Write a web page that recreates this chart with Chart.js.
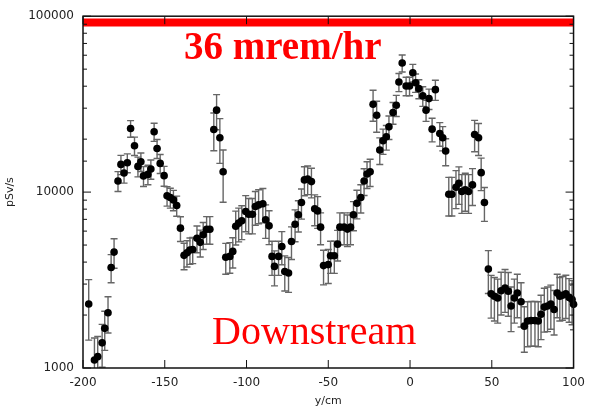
<!DOCTYPE html>
<html>
<head>
<meta charset="utf-8">
<script src="https://cdn.jsdelivr.net/npm/chart.js@4"></script>
<style>
  html, body { margin: 0; padding: 0; background: #fff; }
  #wrap { width: 593px; height: 412px; }
</style>
</head>
<body>
<div id="wrap"><canvas id="chart" width="593" height="412"></canvas></div>
<script>
// position along y (cm)
const xPos = [
  -196.5, -193, -191, -188.3, -186.7, -184.7, -182.8, -181, -178.6, -176.8,
  -174.9, -172.9, -170.9, -168.5, -166.4, -164.6, -163, -160.3, -158.5, -156.5,
  -154.7, -152.8, -150.4, -148.6, -146.6, -144.7, -142.7, -140.4, -138.2, -136.4,
  -134.6, -132.9, -130.3, -128.3, -126.5, -124.4, -122.4, -120, -118.3, -116.3,
  -114.3, -112.7, -110.2, -108.4, -106.6, -104.8, -102.9, -100.5, -98.7, -96.4,
  -94.6, -92.6, -90, -88.3, -86.2, -84.4, -82.9, -80.4, -78.4, -76.6,
  -74.3, -72.5, -70.3, -68.3, -66.4, -64.6, -62.6, -60.3, -58.3, -56.5,
  -54.7, -52.9, -50, -48.6, -46.3, -44.3, -42.9, -40.3, -38.3, -36.4,
  -34.6, -32.5, -30.1, -28.1, -26.3, -24.4, -22.6, -20.4, -18.5, -16.5,
  -14.5, -12.9, -10.4, -8.4, -6.8, -4.8, -2.4, -0.3, 1.7, 3.4,
  5.4, 7.8, 9.8, 11.6, 13.5, 15.5, 18.2, 20, 21.8, 23.7,
  25.6, 28.1, 29.9, 31.7, 33.8, 35.8, 38.2, 39.5, 41.9, 43.5,
  45.5, 47.9, 49.6, 51.6, 53.6, 55.7, 58.1, 60.1, 61.8, 63.8,
  65.6, 67.9, 69.9, 71.9, 74, 76.4, 78.4, 80.1, 82.1, 84.1,
  86.1, 88.1, 90, 91.6, 93.2, 95.3, 97.3, 99.1, 100
];

// dose rate (pSv/s)
const dose = [
  2310, 1110, 1160, 1390, 1680, 2060, 3730, 4560, 11570, 14370,
  12850, 14690, 22990, 18340, 14000, 14890, 12360, 12610, 13530, 22020,
  17710, 14560, 12400, 9520, 9310, 9030, 8390, 6240, 4370, 4520,
  4680, 4720, 5470, 5180, 5720, 6150, 6150, 22680, 29230, 20360,
  13060, 4260, 4310, 4600, 6400, 6660, 6870, 7750, 7490, 7490,
  8280, 8460, 8580, 6960, 6430, 4310, 3780, 4310, 4910, 3540,
  3470, 5240, 6570, 7430, 8720, 11730, 11880, 11470, 8040, 7820,
  6320, 3820, 3870, 4350, 4350, 5060, 6320, 6320, 6160, 6320,
  7430, 8640, 9310, 11570, 12680, 13060, 31600, 27370, 17340, 19590,
  20630, 23500, 28320, 31190, 42270, 54170, 40130, 40130, 47730, 41880,
  38730, 35220, 29230, 34000, 22800, 38230, 21530, 20360, 17120, 9720,
  9720, 10650, 11220, 10070, 10290, 10070, 10990, 21260, 20360, 12900,
  8720, 3650, 2640, 2560, 2500, 2750, 2850, 2730, 2250, 2500,
  2670, 2380, 1730, 1850, 1860, 1860, 1850, 2020, 2220, 2250,
  2310, 2150, 2670, 2560, 2590, 2640, 2520, 2450, 2300
];

// error (pSv/s)
const doseErr = [
  870, 370, 350, 380, 420, 480, 680, 870, 1500, 1800,
  1600, 1800, 2500, 2200, 1800, 1800, 1600, 1600, 1700, 2600,
  2200, 1800, 1600, 1200, 1200, 1200, 1100, 1000, 750, 770,
  800, 800, 950, 900, 1000, 1100, 1100, 5500, 6600, 5800,
  4300, 850, 850, 900, 1400, 1450, 1500, 1800, 1700, 1700,
  1800, 1850, 1900, 1500, 1400, 950, 850, 950, 1050, 800,
  780, 1100, 1350, 1500, 1700, 2200, 2200, 2200, 1600, 1600,
  1300, 850, 850, 900, 900, 1000, 1300, 1300, 1250, 1300,
  1400, 1600, 1700, 2000, 2200, 2300, 6300, 5500, 3000, 3200,
  3300, 3600, 4000, 4300, 5000, 6000, 4800, 4800, 5500, 5000,
  4800, 4500, 4000, 4500, 3500, 5000, 3300, 3200, 3000, 2400,
  2400, 2600, 2700, 2500, 2500, 2500, 2600, 4300, 4200, 2700,
  1900, 1000, 720, 710, 700, 750, 780, 760, 640, 700,
  740, 670, 500, 530, 530, 530, 530, 570, 620, 640,
  650, 610, 740, 710, 720, 730, 700, 690, 650
];

// 36 mrem/hr limit line
const limitX = [-200, 100];
const limitY = [92000, 92000];

const xTicks = [-200, -150, -100, -50, 0, 50, 100];
const yLabels = [1000, 10000, 100000];

const errorBars = {
  id: "errorBars",
  beforeDatasetsDraw(chart) {
    const { ctx, chartArea: a, scales: { x, y } } = chart;
    ctx.save();
    ctx.beginPath();
    ctx.rect(a.left, a.top, a.width, a.height);
    ctx.clip();
    ctx.strokeStyle = "#666";
    ctx.lineWidth = 1.4;
    xPos.forEach((xv, i) => {
      const px = x.getPixelForValue(xv);
      const top = y.getPixelForValue(dose[i] + doseErr[i]);
      const lo = Math.max(dose[i] - doseErr[i], 100);
      const bot = y.getPixelForValue(lo);
      ctx.beginPath();
      ctx.moveTo(px, top); ctx.lineTo(px, bot);
      ctx.moveTo(px - 3.5, top); ctx.lineTo(px + 3.5, top);
      ctx.moveTo(px - 3.5, bot); ctx.lineTo(px + 3.5, bot);
      ctx.stroke();
    });
    ctx.restore();
  }
};

const frame = {
  id: "frame",
  afterDraw(chart) {
    const { ctx, chartArea: a, scales: { x, y } } = chart;
    ctx.save();
    ctx.strokeStyle = "#111";
    ctx.lineWidth = 1.5;
    ctx.strokeRect(a.left, a.top, a.width, a.height);
    ctx.lineWidth = 1;
    ctx.beginPath();
    x.ticks.forEach(t => {
      const px = x.getPixelForValue(t.value);
      ctx.moveTo(px, a.bottom); ctx.lineTo(px, a.bottom - 8);
      ctx.moveTo(px, a.top); ctx.lineTo(px, a.top + 8);
    });
    y.ticks.forEach(t => {
      const py = y.getPixelForValue(t.value);
      const len = yLabels.includes(t.value) ? 8 : 4;
      ctx.moveTo(a.left, py); ctx.lineTo(a.left + len, py);
      ctx.moveTo(a.right, py); ctx.lineTo(a.right - len, py);
    });
    ctx.stroke();
    ctx.restore();
  }
};

const labels = {
  id: "labels",
  afterDatasetsDraw(chart) {
    const { ctx, chartArea: a } = chart;
    ctx.save();
    ctx.fillStyle = "#ff0000";
    ctx.textBaseline = "alphabetic";
    ctx.textAlign = "left";
    ctx.font = "bold 39px 'Liberation Serif'";
    ctx.fillText("36 mrem/hr", a.left + 101, a.top + 43);
    ctx.font = "40px 'Liberation Serif'";
    ctx.fillText("Downstream", a.left + 129, a.top + 328);
    ctx.restore();
  }
};

const tickFont = { family: "DejaVu Sans", size: 12 };

new Chart(document.getElementById("chart"), {
  type: "scatter",
  data: {
    datasets: [
      {
        data: xPos.map((v, i) => ({ x: v, y: dose[i] })),
        pointRadius: 3.8,
        pointBackgroundColor: "#000",
        pointBorderWidth: 0,
        clip: 6
      },
      {
        data: limitX.map((v, i) => ({ x: v, y: limitY[i] })),
        showLine: true,
        borderColor: "#ff0000",
        borderWidth: 8,
        pointRadius: 0
      }
    ]
  },
  options: {
    responsive: false,
    animation: false,
    layout: { padding: { left: 0, right: 16, top: 14, bottom: 0 } },
    plugins: { legend: { display: false }, tooltip: { enabled: false } },
    scales: {
      x: {
        type: "linear",
        min: -200,
        max: 100,
        afterBuildTicks: s => { s.ticks = xTicks.map(v => ({ value: v })); },
        grid: { display: false, drawTicks: false },
        border: { display: false },
        ticks: { font: tickFont, color: "#222", padding: 8, maxRotation: 0 },
        title: { display: true, text: "y/cm", font: { family: "DejaVu Sans", size: 11 }, color: "#222", padding: 4 },
        afterFit: s => { s.height = 44; }
      },
      y: {
        type: "logarithmic",
        min: 1000,
        max: 100000,
        grid: { display: false, drawTicks: false },
        border: { display: false },
        ticks: {
          font: tickFont,
          color: "#222",
          padding: 9,
          autoSkip: false,
          callback: v => yLabels.includes(v) ? String(v) : ""
        },
        title: { display: true, text: "pSv/s", font: { family: "DejaVu Sans", size: 11 }, color: "#222", padding: 4 },
        afterFit: s => { s.width = 83; }
      }
    }
  },
  plugins: [errorBars, frame, labels]
});
</script>
</body>
</html>
